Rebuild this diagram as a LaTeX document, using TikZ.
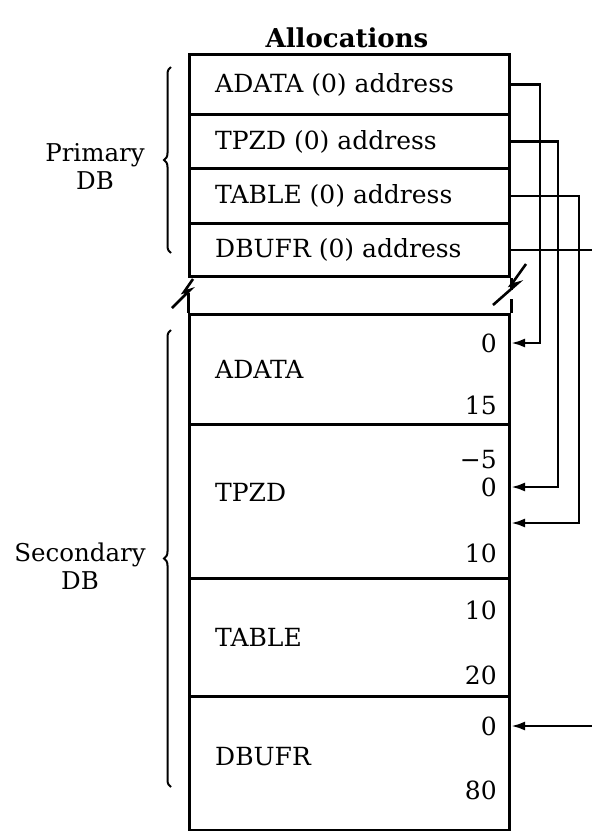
\documentclass[tikz,border=0pt]{standalone}
\usepackage{fontspec}
\setmainfont{DejaVu Serif}
\usepackage{tikz}
\usetikzlibrary{positioning,calc,decorations.pathreplacing,arrows.meta}

\tikzset{
  row/.style={draw, line width=3pt, minimum width=320pt, anchor=north west, inner sep=0pt},
  lbl/.style={anchor=west, inner sep=0pt, font=\fontsize{25}{29}\selectfont},
  num/.style={anchor=east, inner sep=0pt, font=\fontsize{25}{29}\selectfont},
  side/.style={align=center, font=\fontsize{24.5}{28}\selectfont},
  link/.style={line width=2.6pt},
  ptr/.style={link, -{Latex[length=14pt,width=9pt]}},
  curly/.style={line width=2pt, decorate, decoration={brace, amplitude=7pt, aspect=0.5}}
}

\begin{document}
\begin{tikzpicture}[x=1pt,y=-1pt]
  \useasboundingbox (0,0) rectangle (592,831);

  \node[font=\fontsize{26}{30}\selectfont\bfseries] (title) at (347,38) {Allocations};

  % primary DB
  \node[row, minimum height=60pt] (pa) at (188,53) {};
  \node[row, minimum height=54pt] (pt) at (188,113) {};
  \node[row, minimum height=55pt] (pb) at (188,167) {};
  \node[row, minimum height=53pt] (pd) at (188,222) {};
  \node[lbl, right=27pt of pa.west] (pal) {ADATA (0) address};
  \node[lbl, right=27pt of pt.west] (ptl) {TPZD (0) address};
  \node[lbl, right=27pt of pb.west] (pbl) {TABLE (0) address};
  \node[lbl, right=27pt of pd.west] (pdl) {DBUFR (0) address};

  % break
  \draw[link] (193,279) -- (184,292) -- (190,290) -- (172,308);
  \draw[link] (526,264) -- (511,285) -- (518,283) -- (493,305);
  \draw[line width=3pt] (pd.south east) -- ++(0,12);

  % secondary DB
  \node[row, minimum height=110pt] (sa) at (188,313) {};
  \node[row, minimum height=154pt] (st) at (188,423) {};
  \node[row, minimum height=118pt] (sb) at (188,577) {};
  \node[row, minimum height=134pt] (sd) at (188,695) {};
  \draw[line width=3pt] (sa.north west) -- ++(0,-20);
  \draw[line width=3pt] (sa.north east) -- ++(0,-14);

  \node[lbl, right=27pt of sa.west] (sal) {ADATA};
  \node[lbl] (stl) at (215,492) {TPZD};
  \node[lbl, right=27pt of sb.west] (sbl) {TABLE};
  \node[lbl] (sdl) at (215,757) {DBUFR};

  \node[num] (a0) at (497,343) {0};
  \node[num] (a15) at (497,405) {15};
  \node[num] (tm5) at (497,460) {\char"2212 5};
  \node[num] (t0) at (497,487) {0};
  \node[num] (t10) at (497,553) {10};
  \node[num] (b10) at (497,610) {10};
  \node[num] (b20) at (497,675) {20};
  \node[num] (d0) at (497,726) {0};
  \node[num] (d80) at (497,790) {80};

  % pointers
  \coordinate (tin) at ($(st.north east)+(0,100)$);
  \coordinate (rim) at (592,0);
  \draw[ptr] (pa.east) -- ++(29,0) |- (a0 -| sa.east);
  \draw[ptr] (pt.east) -- ++(47,0) |- (t0 -| st.east);
  \draw[ptr] (pb.east) -- ++(68,0) |- (tin);
  \draw[link] (pd.east) -- (pd.east -| rim);
  \draw[ptr] (rim |- d0) -- (d0 -| sd.east);

  % braces
  \draw[curly] (171,253) -- (171,67);
  \node[side] (prim) at (95,166) {Primary\\DB};
  \draw[curly] (171,787) -- (171,330);
  \node[side] (sec) at (80,566) {Secondary\\DB};
\end{tikzpicture}
\end{document}
